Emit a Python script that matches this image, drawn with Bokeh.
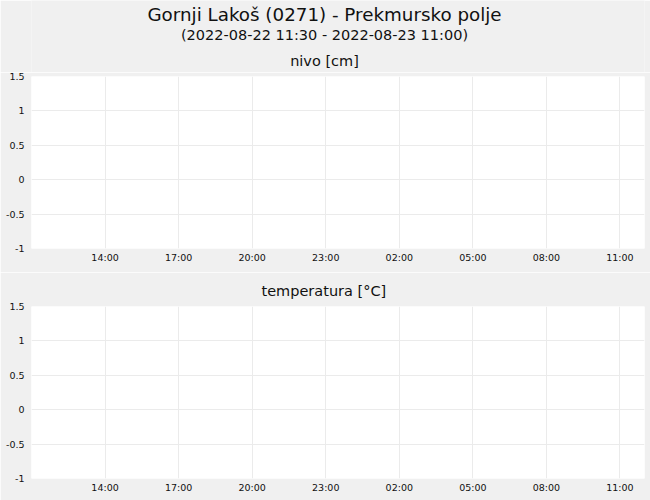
import pandas as pd
from bokeh.plotting import figure
from bokeh.layouts import column
from bokeh.models import Range1d, FixedTicker, Title, ColumnDataSource
from bokeh.core.properties import value
from bokeh.embed import file_html
from bokeh.resources import INLINE

# ---- data / text ----
title_text = "Gornji Lakoš (0271) - Prekmursko polje"
subtitle_text = "(2022-08-22 11:30 - 2022-08-23 11:00)"
panel_titles = ["nivo [cm]", "temperatura [°C]"]

x_start = "2022-08-22 11:00"
x_end = "2022-08-23 12:00"
x_tick_times = ["2022-08-22 14:00", "2022-08-22 17:00", "2022-08-22 20:00",
                "2022-08-22 23:00", "2022-08-23 02:00", "2022-08-23 05:00",
                "2022-08-23 08:00", "2022-08-23 11:00"]
x_tick_labels = ["14:00", "17:00", "20:00", "23:00", "02:00", "05:00", "08:00", "11:00"]

y_min, y_max = -1, 1.5
y_ticks = [-1, -0.5, 0, 0.5, 1, 1.5]
y_tick_labels = ["-1", "-0.5", "0", "0.5", "1", "1.5"]

# no measurements in the period
nivo_times = []
nivo_values = []
temp_times = []
temp_values = []

FONT = "DejaVu Sans"
BG = "#f0f0f0"
GRID = "#ebebeb"
TXT = "#111111"
W = 650
HEADER_H = 72
LEFT, RIGHT = 31, 6          # frame borders (column aligns all frames)


def ms(s):
    return pd.Timestamp(s).value // 10**6


x_tick_ms = [ms(t) for t in x_tick_times]

# ---- header with the titles (page pixel coordinates, y downward) ----
header = figure(width=W, height=HEADER_H, output_backend="svg", toolbar_location=None,
                x_range=Range1d(LEFT, W - RIGHT), y_range=Range1d(HEADER_H, 0),
                x_axis_location=None, y_axis_location=None,
                min_border_top=0, min_border_bottom=0,
                min_border_left=LEFT, min_border_right=RIGHT, title=None)
header.background_fill_color = BG
header.border_fill_color = BG
header.outline_line_color = None
header.grid.visible = False
header_src = ColumnDataSource(dict(
    x=[324, 324, 324],
    y=[13.5, 34, 60],
    text=[title_text, subtitle_text, panel_titles[0]],
    size=["18.3px", "14.5px", "14.5px"],
))
header.text("x", "y", text="text", source=header_src, text_font=value(FONT),
            text_font_size="size", text_align="center", text_baseline="alphabetic",
            text_color=TXT)


def make_fig(height, top, bottom, times, values):
    p = figure(width=W, height=height, output_backend="svg", toolbar_location=None,
               x_range=Range1d(ms(x_start), ms(x_end)), y_range=Range1d(y_min, y_max),
               min_border_top=top, min_border_bottom=bottom,
               min_border_left=LEFT, min_border_right=RIGHT, title=None)
    p.background_fill_color = "white"
    p.border_fill_color = BG
    p.outline_line_color = None
    src = ColumnDataSource(dict(x=[ms(t) for t in times], y=list(values)))
    p.line("x", "y", source=src, line_color="#1f77b4", line_width=1.5)

    for ax in (p.xaxis[0], p.yaxis[0]):
        ax.axis_line_color = None
        ax.major_tick_line_color = None
        ax.minor_tick_line_color = None
        ax.major_tick_out = 0
        ax.major_tick_in = 0
        ax.minor_tick_out = 0
        ax.major_label_text_font = FONT
        ax.major_label_text_font_size = "9.5px"
        ax.major_label_text_color = TXT
    p.xaxis.ticker = FixedTicker(ticks=x_tick_ms)
    p.xaxis.major_label_overrides = {t: l for t, l in zip(x_tick_ms, x_tick_labels)}
    p.xaxis.major_label_standoff = 3
    p.yaxis.ticker = FixedTicker(ticks=y_ticks)
    p.yaxis.major_label_overrides = {float(t): l for t, l in zip(y_ticks, y_tick_labels)}
    p.yaxis.major_label_standoff = 7
    p.xgrid.grid_line_color = GRID
    p.ygrid.grid_line_color = GRID
    return p


p1 = make_fig(200, 4, 24, nivo_times, nivo_values)
p2 = make_fig(228, 34, 22, temp_times, temp_values)
p2.add_layout(Title(text=panel_titles[1], align="left", offset=230, standoff=15,
                    text_font=FONT, text_font_size="14.5px", text_font_style="normal",
                    text_color=TXT), "above")

layout = column(header, p1, p2, spacing=0)
open("out.html", "w").write(file_html(layout, INLINE))
